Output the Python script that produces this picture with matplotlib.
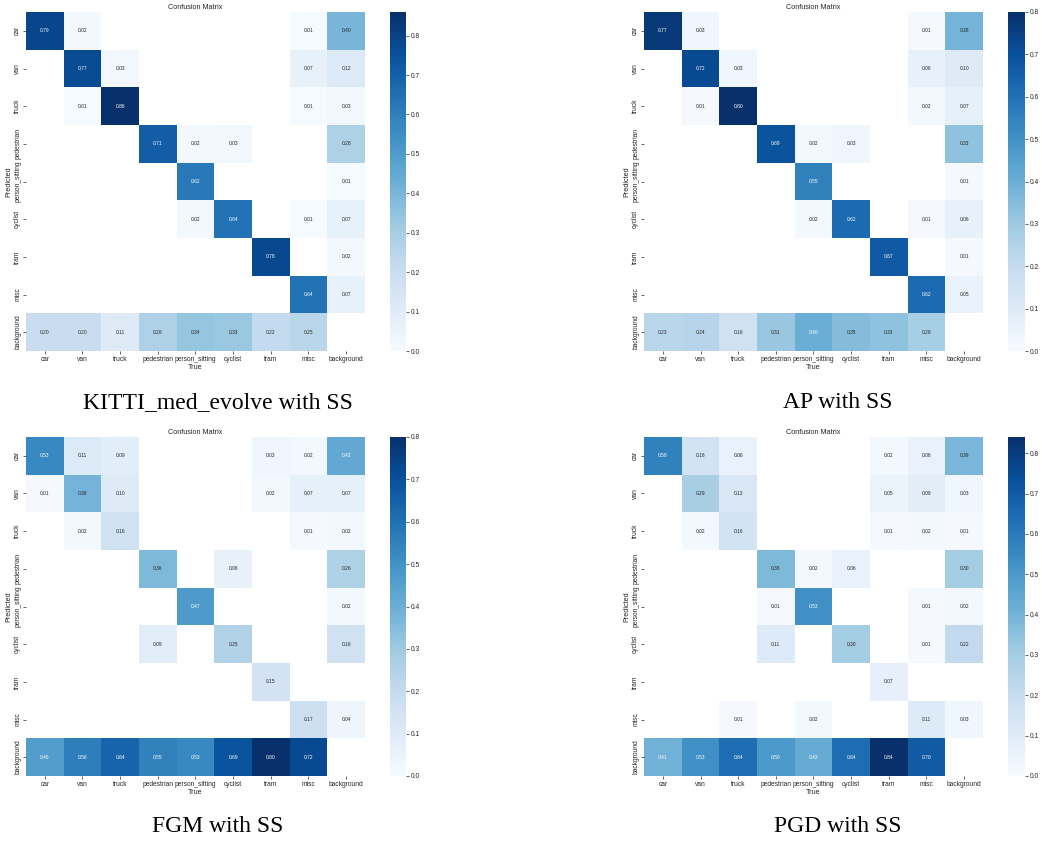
import numpy as np
import matplotlib
matplotlib.use("Agg")
import matplotlib.pyplot as plt
import seaborn as sns

n = np.nan
classes = ["car", "van", "truck", "pedestrian", "person_sitting", "cyclist", "tram", "misc", "background"]
captions = ["KITTI_med_evolve with SS", "AP with SS", "FGM with SS", "PGD with SS"]

# rows = Predicted, columns = True
cm_kitti = [
    [0.79, 0.02, n, n, n, n, n, 0.01, 0.40],
    [n, 0.77, 0.03, n, n, n, n, 0.07, 0.12],
    [n, 0.01, 0.86, n, n, n, n, 0.01, 0.03],
    [n, n, n, 0.71, 0.02, 0.03, n, n, 0.28],
    [n, n, n, n, 0.62, n, n, n, 0.01],
    [n, n, n, n, 0.02, 0.64, n, 0.01, 0.07],
    [n, n, n, n, n, n, 0.78, n, 0.02],
    [n, n, n, n, n, n, n, 0.64, 0.07],
    [0.20, 0.20, 0.11, 0.28, 0.34, 0.33, 0.22, 0.25, n],
]
cm_ap = [
    [0.77, 0.03, n, n, n, n, n, 0.01, 0.38],
    [n, 0.72, 0.03, n, n, n, n, 0.06, 0.10],
    [n, 0.01, 0.80, n, n, n, n, 0.02, 0.07],
    [n, n, n, 0.69, 0.02, 0.03, n, n, 0.33],
    [n, n, n, n, 0.55, n, n, n, 0.01],
    [n, n, n, n, 0.02, 0.62, n, 0.01, 0.06],
    [n, n, n, n, n, n, 0.67, n, 0.01],
    [n, n, n, n, n, n, n, 0.62, 0.05],
    [0.23, 0.24, 0.16, 0.31, 0.40, 0.35, 0.33, 0.28, n],
]
cm_fgm = [
    [0.53, 0.11, 0.09, n, n, n, 0.03, 0.02, 0.42],
    [0.01, 0.38, 0.10, n, n, n, 0.02, 0.07, 0.07],
    [n, 0.02, 0.16, n, n, n, n, 0.01, 0.02],
    [n, n, n, 0.36, n, 0.06, n, n, 0.26],
    [n, n, n, n, 0.47, n, n, n, 0.02],
    [n, n, n, 0.09, n, 0.25, n, n, 0.16],
    [n, n, n, n, n, n, 0.15, n, n],
    [n, n, n, n, n, n, n, 0.17, 0.04],
    [0.46, 0.56, 0.64, 0.55, 0.53, 0.69, 0.80, 0.72, n],
]
cm_pgd = [
    [0.58, 0.16, 0.06, n, n, n, 0.02, 0.06, 0.39],
    [n, 0.29, 0.13, n, n, n, 0.05, 0.09, 0.03],
    [n, 0.02, 0.16, n, n, n, 0.01, 0.02, 0.01],
    [n, n, n, 0.38, 0.02, 0.06, n, n, 0.30],
    [n, n, n, 0.01, 0.53, n, n, 0.01, 0.02],
    [n, n, n, 0.11, n, 0.30, n, 0.01, 0.22],
    [n, n, n, n, n, n, 0.07, n, n],
    [n, n, 0.01, n, 0.02, n, n, 0.11, 0.03],
    [0.41, 0.53, 0.64, 0.50, 0.43, 0.64, 0.84, 0.70, n],
]
matrices = [cm_kitti, cm_ap, cm_fgm, cm_pgd]

W, H = 1042, 844
plt.rcParams["font.family"] = ["Liberation Sans", "DejaVu Sans"]
plt.rcParams["text.color"] = "0.15"
plt.rcParams["axes.labelcolor"] = "0.15"
plt.rcParams["xtick.color"] = "0.15"
plt.rcParams["ytick.color"] = "0.15"

fig = plt.figure(figsize=(W / 100, H / 100), dpi=100)

def px_axes(x0, y0, x1, y1):
    return fig.add_axes([x0 / W, 1 - y1 / H, (x1 - x0) / W, (y1 - y0) / H])

panels = [
    (26, 12, 365, 351, 390, 406),
    (644, 12, 983, 351, 1008, 1025),
    (26, 437, 365, 776, 390, 406),
    (644, 437, 983, 776, 1008, 1025),
]
cap_pos = [(218, 403), (838, 403), (218, 826), (838, 826)]

for cm, (hx0, hy0, hx1, hy1, cx0, cx1), cap, (capx, capy) in zip(matrices, panels, captions, cap_pos):
    ax = px_axes(hx0, hy0, hx1, hy1)
    cax = px_axes(cx0, hy0, cx1, hy1)
    arr = np.array(cm, dtype=float)
    sns.heatmap(arr, ax=ax, cbar_ax=cax, annot=True, annot_kws={"size": 3.5},
                cmap="Blues", fmt=".2f", vmin=0.0,
                xticklabels=classes, yticklabels=classes)
    ax.set_facecolor((1, 1, 1))
    ax.set_xlabel("True", fontsize=5.2, labelpad=1)
    ax.set_ylabel("Predicted", fontsize=5.2, labelpad=1)
    ax.set_title("Confusion Matrix", fontsize=5.2, pad=2.5)
    ax.tick_params(axis="both", labelsize=4.8, length=2, width=0.5, pad=1.5)
    plt.setp(ax.get_xticklabels(), rotation=0)
    plt.setp(ax.get_yticklabels(), rotation=90, va="center")
    cax.tick_params(labelsize=4.8, length=2, width=0.5, pad=1.5)
    cax.set_yticks(np.arange(0, 0.81, 0.1))
    cax.set_yticklabels([f"{t:.1f}" for t in np.arange(0, 0.81, 0.1)])
    fig.text(capx / W, 1 - capy / H, cap, ha="center", va="center",
             fontsize=17, family=["Liberation Serif", "DejaVu Serif"], color="black")

fig.savefig("out.png", dpi=100)
